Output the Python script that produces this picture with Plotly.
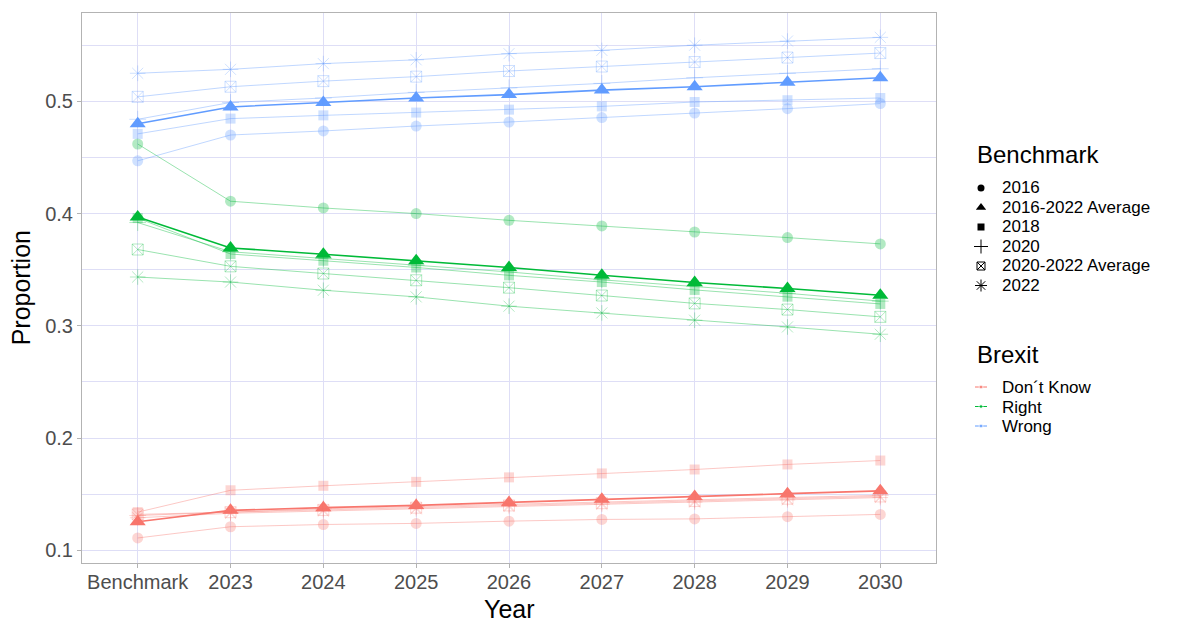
import plotly.graph_objects as go

years = ["Benchmark", "2023", "2024", "2025", "2026", "2027", "2028", "2029", "2030"]
benchmarks = ["2016", "2016-2022 Average", "2018", "2020", "2020-2022 Average", "2022"]
brexit = ["Don´t Know", "Right", "Wrong"]

# Don't Know
dk_2016 = [0.111, 0.121, 0.123, 0.124, 0.126, 0.1275, 0.128, 0.130, 0.132]
dk_avg = [0.1255, 0.1356, 0.138, 0.140, 0.1427, 0.1455, 0.148, 0.1505, 0.153]
dk_2018 = [0.134, 0.1535, 0.1575, 0.161, 0.165, 0.1685, 0.172, 0.1765, 0.180]
dk_2020 = [0.131, 0.134, 0.137, 0.139, 0.141, 0.143, 0.145, 0.147, 0.149]
dk_2020_22 = [0.132, 0.134, 0.136, 0.138, 0.140, 0.142, 0.144, 0.146, 0.148]
dk_2022 = [0.129, 0.133, 0.135, 0.137, 0.139, 0.141, 0.143, 0.145, 0.147]

# Right
right_2016 = [0.462, 0.411, 0.405, 0.400, 0.394, 0.389, 0.3836, 0.3786, 0.373]
right_avg = [0.397, 0.3694, 0.3638, 0.358, 0.352, 0.345, 0.3386, 0.3332, 0.3273]
right_2018 = [0.396, 0.364, 0.358, 0.352, 0.345, 0.339, 0.332, 0.326, 0.3195]
right_2020 = [0.392, 0.366, 0.360, 0.354, 0.348, 0.341, 0.335, 0.329, 0.322]
right_2020_22 = [0.368, 0.353, 0.3466, 0.3406, 0.334, 0.327, 0.320, 0.3145, 0.308]
right_2022 = [0.3435, 0.339, 0.3317, 0.3258, 0.3175, 0.3115, 0.305, 0.299, 0.2925]

# Wrong
wrong_2016 = [0.447, 0.470, 0.4736, 0.478, 0.4816, 0.4855, 0.4896, 0.4935, 0.498]
wrong_avg = [0.480, 0.495, 0.499, 0.503, 0.506, 0.510, 0.513, 0.517, 0.521]
wrong_2018 = [0.471, 0.4846, 0.4875, 0.490, 0.4926, 0.4955, 0.4994, 0.501, 0.503]
wrong_2020 = [0.484, 0.499, 0.503, 0.508, 0.512, 0.516, 0.521, 0.525, 0.529]
wrong_2020_22 = [0.504, 0.513, 0.518, 0.522, 0.527, 0.531, 0.535, 0.539, 0.543]
wrong_2022 = [0.525, 0.5285, 0.5336, 0.537, 0.5425, 0.5454, 0.550, 0.5537, 0.557]

y_ticks = [0.1, 0.2, 0.3, 0.4, 0.5]

series = {
    "Don´t Know": [dk_2016, dk_avg, dk_2018, dk_2020, dk_2020_22, dk_2022],
    "Right": [right_2016, right_avg, right_2018, right_2020, right_2020_22, right_2022],
    "Wrong": [wrong_2016, wrong_avg, wrong_2018, wrong_2020, wrong_2020_22, wrong_2022],
}
rgb = {"Don´t Know": (248, 118, 109), "Right": (0, 186, 56), "Wrong": (97, 156, 255)}
symbols = ["circle", "triangle-up", "square", "cross-thin-open", "square-x-open", "asterisk-open"]
sizes = [11, 14, 10, 12, 11, 13]
legend_sizes = [7, 9, 7, 10, 8, 10]

W, H = 1200, 636
ML, MT, MB = 82, 13, 73
PLOT_RIGHT = 936
paper_w = W - ML
main_dom = (PLOT_RIGHT - ML) / paper_w
leg_dom0 = main_dom + 0.005
leg_x_left = ML + leg_dom0 * paper_w

fig = go.Figure()

for b in brexit:
    r, g, bl = rgb[b]
    full = f"rgb({r},{g},{bl})"
    pale = f"rgba({r},{g},{bl},0.3)"
    line_pale = f"rgba({r},{g},{bl},0.4)"
    for i, bm in enumerate(benchmarks):
        is_avg = bm == "2016-2022 Average"
        col = full if is_avg else pale
        fig.add_trace(go.Scatter(
            x=years, y=series[b][i], mode="lines+markers", name=f"{b} – {bm}",
            line=dict(color=full if is_avg else line_pale, width=1.6 if is_avg else 1),
            marker=dict(symbol=symbols[i], size=sizes[i], color=col,
                        line=dict(color=col, width=1 if "open" in symbols[i] else 0)),
            showlegend=False, xaxis="x", yaxis="y",
        ))

# ---- hand-built legend (pixel-like coordinate system on an auxiliary hidden axis)
key_x = 981
text_x = 1000
title_x = 975
bm_title_y = 154
bm_first_y = 188
bx_title_y = 354
bx_first_y = 387
row = 19.5
LABEL_PX = 17
row_font = row / 1.3  # plotly line spacing is 1.3em of the annotation font


def block(labels):
    return "<br>".join(f"<span style='font-size:{LABEL_PX}px'>{t}</span>" for t in labels)


annotations = []
annotations.append(dict(text="Benchmark", x=title_x, y=bm_title_y, xref="x2", yref="y2",
                        xanchor="left", yanchor="middle", showarrow=False,
                        font=dict(size=24, color="black")))
for i, bm in enumerate(benchmarks):
    yy = bm_first_y + i * row
    fig.add_trace(go.Scatter(
        x=[key_x], y=[yy], mode="markers", xaxis="x2", yaxis="y2", showlegend=False,
        hoverinfo="skip",
        marker=dict(symbol=symbols[i], size=legend_sizes[i], color="black",
                    line=dict(color="black", width=1 if "open" in symbols[i] else 0)),
    ))
annotations.append(dict(text=block(benchmarks), x=text_x,
                        y=bm_first_y + (len(benchmarks) - 1) * row / 2,
                        xref="x2", yref="y2", xanchor="left", yanchor="middle",
                        align="left", showarrow=False,
                        font=dict(size=row_font, color="black")))

annotations.append(dict(text="Brexit", x=title_x, y=bx_title_y, xref="x2", yref="y2",
                        xanchor="left", yanchor="middle", showarrow=False,
                        font=dict(size=24, color="black")))
for j, b in enumerate(brexit):
    r, g, bl = rgb[b]
    yy = bx_first_y + j * row
    fig.add_trace(go.Scatter(
        x=[key_x - 6, key_x, key_x + 6], y=[yy, yy, yy], mode="lines+markers",
        xaxis="x2", yaxis="y2", showlegend=False, hoverinfo="skip",
        line=dict(color=f"rgb({r},{g},{bl})", width=1),
        marker=dict(symbol="circle", size=[0, 4, 0], color=f"rgb({r},{g},{bl})"),
    ))
annotations.append(dict(text=block(brexit), x=text_x,
                        y=bx_first_y + (len(brexit) - 1) * row / 2,
                        xref="x2", yref="y2", xanchor="left", yanchor="middle",
                        align="left", showarrow=False,
                        font=dict(size=row_font, color="black")))

# axis titles
annotations.append(dict(text="Year", x=0.5, y=-0.083, xref="x domain", yref="paper",
                        xanchor="center", yanchor="middle", showarrow=False,
                        font=dict(size=25, color="black")))
annotations.append(dict(text="Proportion", x=-0.071, y=0.5, xref="x domain", yref="paper",
                        xanchor="center", yanchor="middle", showarrow=False, textangle=-90,
                        font=dict(size=25, color="black")))

grid = "#DEDEF6"
fig.update_layout(
    width=W, height=H,
    margin=dict(l=ML, r=0, t=MT, b=MB, autoexpand=False),
    paper_bgcolor="white", plot_bgcolor="white",
    font=dict(family="Liberation Sans, Arial, sans-serif", color="black"),
    showlegend=False,
    annotations=annotations,
    xaxis=dict(
        domain=[0, main_dom], anchor="y", automargin=False,
        type="category", categoryorder="array", categoryarray=years,
        range=[-0.6, 8.6], showgrid=True, gridcolor=grid, gridwidth=1,
        ticks="outside", ticklen=4, tickcolor="#B3B3B3", ticklabelstandoff=-3,
        tickfont=dict(size=20, color="#4D4D4D"),
        showline=True, linecolor="#B3B3B3", linewidth=1, mirror=True, zeroline=False,
    ),
    yaxis=dict(
        domain=[0, 1], anchor="x", automargin=False,
        range=[0.0887, 0.5787], tickvals=y_ticks, ticktext=[f"{v:.1f}" for v in y_ticks],
        showgrid=True, gridcolor=grid, gridwidth=1,
        minor=dict(dtick=0.05, tick0=0.05, showgrid=True, gridcolor=grid, gridwidth=0.6, ticks=""),
        ticks="outside", ticklen=4, tickcolor="#B3B3B3",
        tickfont=dict(size=20, color="#4D4D4D"),
        showline=True, linecolor="#B3B3B3", linewidth=1, mirror=True, zeroline=False,
    ),
    xaxis2=dict(domain=[leg_dom0, 1], anchor="y2", range=[leg_x_left, W], visible=False,
                fixedrange=True),
    yaxis2=dict(domain=[0, 1], anchor="x2", range=[H - MB, MT], visible=False,
                fixedrange=True),
)

fig.write_html("out.html", config={"displayModeBar": False},
               post_script="document.body.style.margin='0';")
